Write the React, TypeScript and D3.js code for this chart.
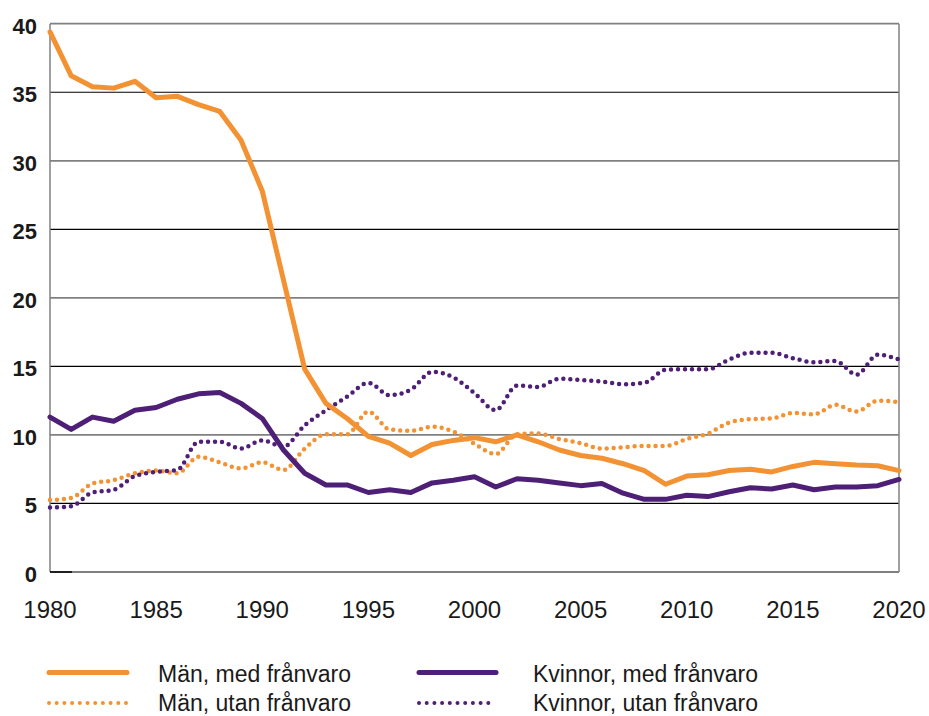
import React from 'react';
import * as d3 from 'd3';

const years = d3.range(1980, 2021);

const menWith = [39.4, 36.2, 35.4, 35.3, 35.8, 34.6, 34.7, 34.1, 33.6, 31.5, 27.8, 21.3, 14.8, 12.3, 11.2, 9.9, 9.4, 8.5, 9.3, 9.6, 9.8, 9.5, 10.0, 9.5, 8.9, 8.5, 8.3, 7.9, 7.4, 6.4, 7.0, 7.1, 7.4, 7.5, 7.3, 7.7, 8.0, 7.9, 7.8, 7.75, 7.4];
const menWithout = [5.25, 5.4, 6.45, 6.7, 7.2, 7.4, 7.2, 8.4, 8.0, 7.55, 8.0, 7.45, 9.0, 10.05, 10.05, 11.7, 10.4, 10.3, 10.6, 10.25, 9.35, 8.6, 10.05, 10.1, 9.7, 9.4, 9.0, 9.1, 9.2, 9.2, 9.7, 10.1, 10.9, 11.15, 11.2, 11.6, 11.5, 12.2, 11.7, 12.5, 12.4];
const womenWith = [11.3, 10.4, 11.3, 11.0, 11.8, 12.0, 12.6, 13.0, 13.1, 12.3, 11.2, 8.9, 7.2, 6.35, 6.35, 5.8, 6.0, 5.8, 6.5, 6.7, 6.95, 6.2, 6.8, 6.7, 6.5, 6.3, 6.45, 5.75, 5.3, 5.3, 5.6, 5.5, 5.85, 6.15, 6.05, 6.35, 6.0, 6.2, 6.2, 6.3, 6.75];
const womenWithout = [4.7, 4.8, 5.8, 6.0, 7.0, 7.3, 7.45, 9.5, 9.5, 9.0, 9.6, 9.15, 10.7, 11.8, 12.8, 13.8, 12.9, 13.3, 14.6, 14.2, 13.05, 11.8, 13.6, 13.5, 14.1, 14.0, 13.9, 13.7, 13.8, 14.75, 14.8, 14.8, 15.5, 16.0, 16.0, 15.6, 15.3, 15.4, 14.4, 15.85, 15.5];

const yTicks = [0, 5, 10, 15, 20, 25, 30, 35, 40];
const xTicks = [1980, 1985, 1990, 1995, 2000, 2005, 2010, 2015, 2020];

const ORANGE = '#F39233';
const PURPLE = '#4E1F76';

const series = [
  { name: 'Män, utan frånvaro', values: menWithout, color: ORANGE, dotted: true },
  { name: 'Kvinnor, utan frånvaro', values: womenWithout, color: PURPLE, dotted: true },
  { name: 'Kvinnor, med frånvaro', values: womenWith, color: PURPLE, dotted: false },
  { name: 'Män, med frånvaro', values: menWith, color: ORANGE, dotted: false },
];

const legendItems = [
  { name: 'Män, med frånvaro', color: ORANGE, dotted: false, col: 0, row: 0 },
  { name: 'Män, utan frånvaro', color: ORANGE, dotted: true, col: 0, row: 1 },
  { name: 'Kvinnor, med frånvaro', color: PURPLE, dotted: false, col: 1, row: 0 },
  { name: 'Kvinnor, utan frånvaro', color: PURPLE, dotted: true, col: 1, row: 1 },
];

const FONT = '"Liberation Sans", Arial, sans-serif';

export default function App() {
  const width = 929;
  const height = 716;
  const left = 50, right = 899, top = 23.7, bottom = 572;

  const x = d3.scaleLinear().domain([1980, 2020]).range([left, right]);
  const y = d3.scaleLinear().domain([0, 40]).range([bottom, top]);

  const lineFor = (dotted: boolean) =>
    d3.line<number>()
      .x((_, i) => x(years[i]))
      .y(d => y(d))
      .curve(dotted ? d3.curveMonotoneX : d3.curveLinear);

  return (
    <svg width={width} height={height} style={{ position: 'absolute', left: 0, top: 0, background: '#fff' }}>
      {/* horizontal grid, alternating gray / black */}
      {yTicks.map(t => (
        <line key={t} x1={left} x2={right} y1={y(t)} y2={y(t)}
          stroke={t % 10 === 0 ? '#808080' : '#000'} strokeWidth={t % 10 === 0 ? 1.8 : 1.2} />
      ))}
      <line x1={left} x2={left} y1={top} y2={bottom} stroke="#808080" strokeWidth={1.5} />
      <line x1={right} x2={right} y1={top} y2={bottom} stroke="#808080" strokeWidth={1.5} />
      <line x1={left} x2={left + 22} y1={bottom} y2={bottom} stroke="#000" strokeWidth={1.5} />

      {yTicks.map(t => (
        <text key={t} x={37} y={y(t) + 10} textAnchor="end" fontFamily={FONT}
          fontWeight="bold" fontSize={22} fill="#1a1a1a">{t}</text>
      ))}
      {xTicks.map(t => (
        <text key={t} x={x(t)} y={618} textAnchor="middle" fontFamily={FONT}
          fontSize={24} fill="#1a1a1a">{t}</text>
      ))}

      {series.map(s => (
        <path key={s.name} d={lineFor(s.dotted)(s.values) ?? ''} fill="none"
          stroke={s.color}
          strokeWidth={s.dotted ? 4.5 : 5}
          strokeLinecap="round" strokeLinejoin="round"
          strokeDasharray={s.dotted ? '0 7' : undefined} />
      ))}

      {legendItems.map(it => {
        const lx = it.col === 0 ? 49 : 419;
        const tx = it.col === 0 ? 158 : 533;
        const ly = it.row === 0 ? 672.5 : 703;
        const len = it.col === 0 ? 78 : (it.dotted ? 70 : 77);
        return (
          <g key={it.name}>
            <line x1={lx} x2={lx + len} y1={ly} y2={ly} stroke={it.color}
              strokeWidth={it.dotted ? 4 : 5} strokeLinecap="round"
              strokeDasharray={it.dotted ? '0 7.7' : undefined} />
            <text x={tx} y={ly + (it.row === 0 ? 9 : 7.5)} fontFamily={FONT} fontSize={23} fill="#1a1a1a">{it.name}</text>
          </g>
        );
      })}
    </svg>
  );
}
